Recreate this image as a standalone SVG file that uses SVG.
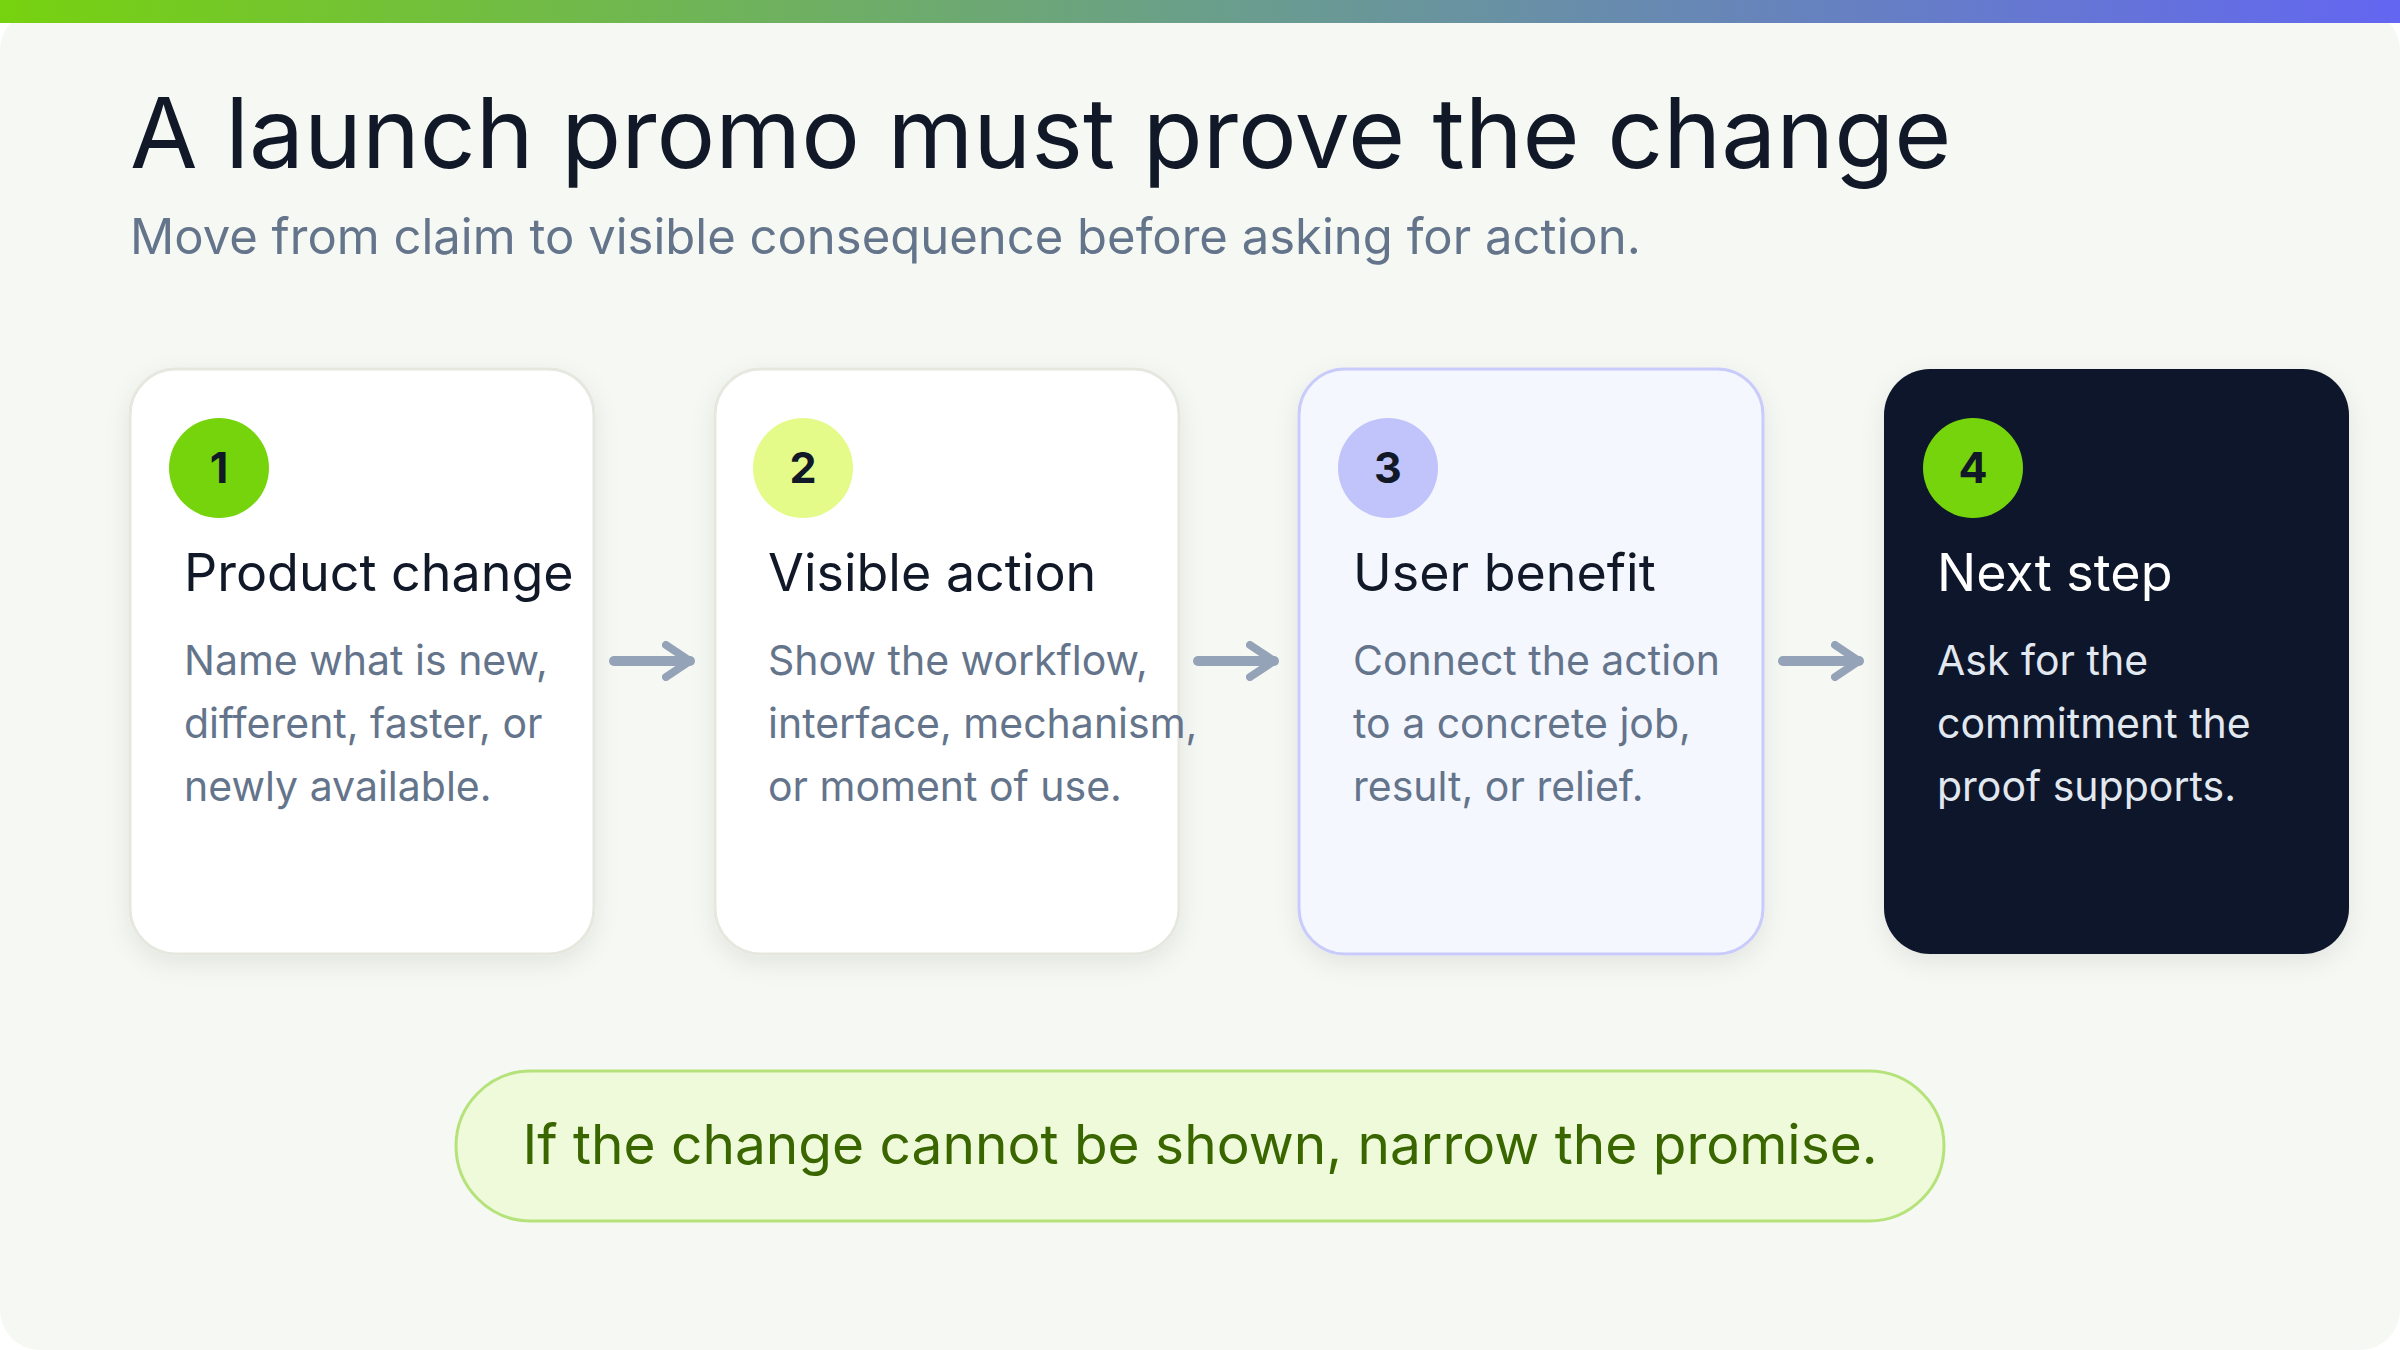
<svg xmlns="http://www.w3.org/2000/svg" width="2400" height="1350" viewBox="0 0 2400 1350">
<defs>
<linearGradient id="bar" x1="0" x2="1" y1="0" y2="0"><stop offset="0" stop-color="#77d20f"/><stop offset="0.5" stop-color="#6a9f8a"/><stop offset="1" stop-color="#6366f1"/></linearGradient>
<filter id="sh" x="-20%" y="-20%" width="140%" height="140%"><feDropShadow dx="0" dy="8" stdDeviation="12" flood-color="#0f172a" flood-opacity="0.08"/></filter>
<marker id="ah" viewBox="0 0 10 10" refX="7" refY="5" markerWidth="4" markerHeight="4" orient="auto"><path d="M1,1 L7,5 L1,9" fill="none" stroke="#94a3b8" stroke-width="2" stroke-linecap="round" stroke-linejoin="round"/></marker>
</defs>
<style>
text{font-family:Inter,"Noto Sans","Liberation Sans",sans-serif}
.card{fill:#fff;stroke:#e6e8df;stroke-width:3}
.num{font-size:43px;font-weight:700;fill:#111827;text-anchor:middle}
.ct{font-size:52px;fill:#111827}
.cb{font-size:41px;fill:#64748b}
.conn{stroke:#94a3b8;stroke-width:10;stroke-linecap:round;fill:none}
</style>
<rect width="2400" height="1350" fill="#ffffff"/>
<rect x="0" y="10" width="2400" height="1340" rx="40" fill="#f6f8f3"/>
<rect x="0" y="0" width="2400" height="23" fill="url(#bar)"/>
<text x="130" y="168" font-size="98" fill="#111827">A launch promo must prove the change</text>
<text x="130" y="254" font-size="49" fill="#64748b">Move from claim to visible consequence before asking for action.</text>
<g id="node1">
<rect class="card" x="130" y="369" width="464" height="585" rx="46" filter="url(#sh)"/>
<circle cx="219" cy="468" r="50" fill="#76d40c"/><text class="num" x="219" y="483">1</text>
<text class="ct" x="184" y="591">Product change</text>
<text class="cb" x="184" y="675">Name what is new,</text><text class="cb" x="184" y="738">different, faster, or</text><text class="cb" x="184" y="801">newly available.</text>
</g>
<g id="node2">
<rect class="card" x="715" y="369" width="464" height="585" rx="46" filter="url(#sh)"/>
<circle cx="803" cy="468" r="50" fill="#e4fb8a"/><text class="num" x="803" y="483">2</text>
<text class="ct" x="768" y="591">Visible action</text>
<text class="cb" x="768" y="675">Show the workflow,</text><text class="cb" x="768" y="738">interface, mechanism,</text><text class="cb" x="768" y="801">or moment of use.</text>
</g>
<g id="node3">
<rect x="1299" y="369" width="464" height="585" rx="46" fill="#f5f7ff" stroke="#c9ccfa" stroke-width="3" filter="url(#sh)"/>
<circle cx="1388" cy="468" r="50" fill="#c0c4fb"/><text class="num" x="1388" y="483">3</text>
<text class="ct" x="1353" y="591">User benefit</text>
<text class="cb" x="1353" y="675">Connect the action</text><text class="cb" x="1353" y="738">to a concrete job,</text><text class="cb" x="1353" y="801">result, or relief.</text>
</g>
<g id="node4">
<rect x="1884" y="369" width="465" height="585" rx="46" fill="#0f172a" filter="url(#sh)"/>
<circle cx="1973" cy="468" r="50" fill="#76d40c"/><text class="num" x="1973" y="483">4</text>
<text class="ct" x="1937" y="591" fill="#ffffff" style="fill:#fff">Next step</text>
<text class="cb" x="1937" y="675" style="fill:#e2e8f0">Ask for the</text><text class="cb" x="1937" y="738" style="fill:#e2e8f0">commitment the</text><text class="cb" x="1937" y="801" style="fill:#e2e8f0">proof supports.</text>
</g>
<g id="connectors">
<path class="conn" d="M614,661 H690" marker-end="url(#ah)"/>
<path class="conn" d="M1198,661 H1274" marker-end="url(#ah)"/>
<path class="conn" d="M1783,661 H1859" marker-end="url(#ah)"/>
</g>
<g id="note">
<rect x="456" y="1071" width="1488" height="150" rx="75" fill="#eefad9" stroke="#b5e27a" stroke-width="3"/>
<text x="1200" y="1164" font-size="55" fill="#3a6600" text-anchor="middle">If the change cannot be shown, narrow the promise.</text>
</g>
</svg>
